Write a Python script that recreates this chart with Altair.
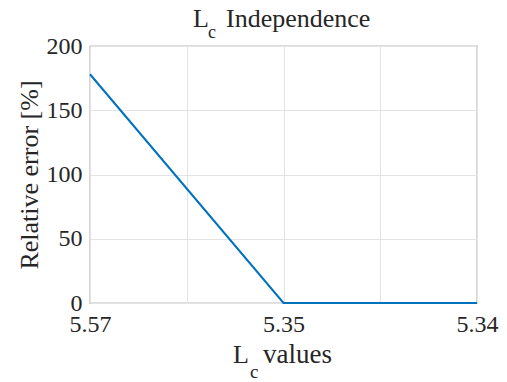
import altair as alt
import pandas as pd

# Data
lc_labels = ["5.57", "5.35", "5.34"]
rel_error = [178, 0, 0]
positions = [1, 2, 3]
y_ticks = [0, 50, 100, 150, 200]
x_grid = [1, 1.5, 2, 2.5, 3]

df = pd.DataFrame({"pos": positions, "err": rel_error, "label": lc_labels})

FONT = "Liberation Serif"
W, H = 387, 257

label_expr = " : ".join(
    f"datum.value == {p} ? '{l}'" for p, l in zip(positions, lc_labels)
) + " : ''"

line = alt.Chart(df).mark_line(color="#0072BD", strokeWidth=2).encode(
    x=alt.X(
        "pos:Q",
        scale=alt.Scale(domain=[1, 3], nice=False, zero=False),
        axis=alt.Axis(
            values=x_grid,
            labelExpr=label_expr,
            title=None,
            labelFont=FONT,
            labelFontSize=24,
            labelColor="#262626",
            labelPadding=9,
            tickSize=0,
            domain=False,
            gridColor="#e3e3e3",
            labelFlush=False,
        ),
    ),
    y=alt.Y(
        "err:Q",
        scale=alt.Scale(domain=[0, 200], nice=False),
        axis=alt.Axis(
            values=y_ticks,
            title="Relative error [%]",
            titleFont=FONT,
            titleFontSize=26,
            titleFontWeight="normal",
            titleColor="#262626",
            titlePadding=4,
            labelFont=FONT,
            labelFontSize=24,
            labelColor="#262626",
            labelPadding=8,
            tickSize=0,
            domain=False,
            gridColor="#e3e3e3",
        ),
    ),
)

def txt(s, x, y, size):
    return alt.Chart(df).transform_filter("datum.pos == 1").mark_text(
        text=s, font=FONT, fontSize=size, align="left", baseline="alphabetic",
        color="#262626",
    ).encode(x=alt.value(x), y=alt.value(y))

title_parts = (
    txt("L", 103, -19, 26)
    + txt("c", 118, -8, 18)
    + txt("Independence", 136, -19, 26)
)
xtitle_parts = (
    txt("L", 143, 317, 26)
    + txt("c", 160, 332, 19)
    + txt("values", 173, 317, 27)
)

chart = (
    alt.layer(line, title_parts, xtitle_parts)
    .properties(
        width=W,
        height=H,
        autosize=alt.AutoSizeParams(type="none"),
        padding={"left": 90, "top": 46, "right": 30, "bottom": 79},
        background="white",
    )
    .configure_view(stroke="#777777", strokeWidth=1.2)
)

chart.save("out.html", embed_options={"renderer": "svg", "actions": False})
